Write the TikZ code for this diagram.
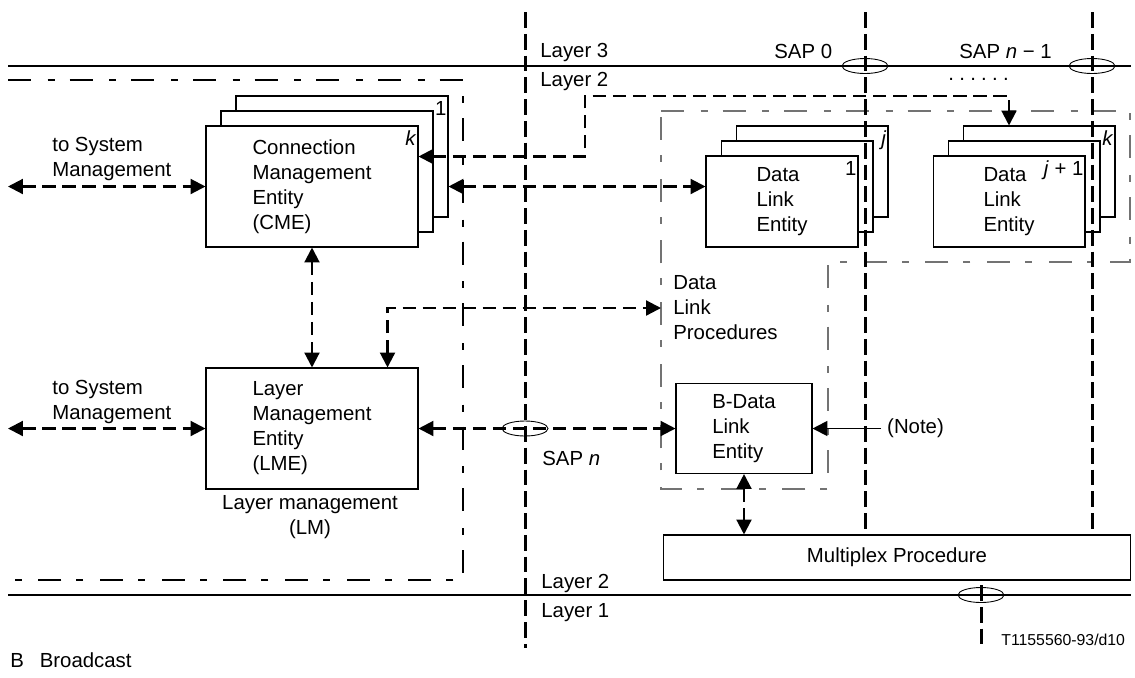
\documentclass[tikz,border=0pt]{standalone}
\usepackage{fontspec}
\setmainfont{Liberation Sans}
\usetikzlibrary{arrows.meta,shapes.geometric}

\begin{document}
\begin{tikzpicture}
[   x=0.02cm, y=-0.02cm,
    font=\fontsize{11.6}{14.2}\selectfont,
    ent/.style={draw, fill=white, line width=0.6pt, align=left, inner sep=0pt},
    bigent/.style={ent, minimum width=4.24cm, minimum height=2.42cm},
    dlent/.style={ent, minimum width=3.04cm, minimum height=1.82cm},
    conn/.style={line width=1.25pt, dash pattern=on 7.6pt off 3.8pt, {Triangle[length=8.5pt,width=8.5pt]}-{Triangle[length=8.5pt,width=8.5pt]}},
    sapline/.style={line width=1.7pt, dash pattern=on 9pt off 3.4pt},
    dashdot/.style={line width=0.6pt, dash pattern=on 13pt off 9.6pt on 4pt off 8.5pt},
    sap/.style={draw, ellipse, line width=0.5pt, minimum width=0.92cm, minimum height=0.3cm, inner sep=0pt},
    num/.style={anchor=north east, inner xsep=1pt, inner ysep=3pt},
    lbl/.style={anchor=base west, inner sep=0pt},
]
\useasboundingbox (0,0) rectangle (1135,677);

\draw[dashdot] (8,80) -- (463,80) -- (463,580) -- (8,580);
\draw[dashdot, black!55] (661,111) -- (1130,111) -- (1130,262) -- (828,262) -- (828,489) -- (661,489) -- cycle;

\node[bigent] (cmeB) at (342,156.5) {};
\node[bigent] (cmeM) at (327,171.5) {};
\node[bigent] (cme) at (312,186.5) {Connection\\Management\\Entity\\(CME)};
\node[num] at (cmeB.north east) {1};
\node[num] at (cme.north east) {\textit{k}};

\node[dlent] (dleB) at (812,171.5) {};
\node[dlent] (dleM) at (797,186.5) {};
\node[dlent] (dle) at (782,201.5) {Data\\Link\\Entity};
\node[num] at (dleB.north east) {\textit{j}};
\node[num] at (dle.north east) {1};

\node[dlent] (dle2B) at (1039,171.5) {};
\node[dlent] (dle2M) at (1024,186.5) {};
\node[dlent] (dle2) at (1009,201.5) {Data\\Link\\Entity};
\node[num] at (dle2B.north east) {\textit{k}};
\node[num] at (dle2.north east) {\textit{j} + 1};

\node[bigent] (lme) at (312,428.5) {Layer\\Management\\Entity\\(LME)};
\node[ent, minimum width=2.72cm, minimum height=1.8cm] (bdle) at (744,428.5) {B-Data\\Link\\Entity};
\node[ent, minimum width=9.36cm, minimum height=0.9cm] (mux) at (897,557.5) {Multiplex Procedure};

\draw[line width=1.1pt] (8,66) -- (1131,66);
\draw[line width=1.6pt] (8,595) -- (1131,595);

\draw[sapline] (525,12) -- (525,648);
\draw[sapline] (865,12) -- (865,12 |- mux.north);
\draw[sapline] (1092,12) -- (1092,12 |- mux.north);
\draw[sapline] (981,585) -- (981,648);

\node[sap] (sap0) at (865,66) {};
\node[sap] (sapn1) at (1092,66) {};
\node[sap] (sapn) at (525,428.5) {};
\node[sap] (sapb) at (981,595) {};

\node[anchor=west, align=left, inner xsep=0.24cm, inner ysep=0pt] (dlp) at (661,308) {Data\\Link\\Procedures};
\node[anchor=west] (note) at (881,428.5) {(Note)};
\node[anchor=west, align=left, inner sep=0pt] (sys1) at (52,159) {to System\\Management};
\node[anchor=west, align=left, inner sep=0pt] (sys2) at (52,402) {to System\\Management};
\coordinate (sysA) at (8,186.5);
\coordinate (sysB) at (8,428.5);
\coordinate (cmebend) at (585,96);

\draw[conn] (sysA) -- (cme.west);
\draw[conn] (sysB) -- (lme.west);
\draw[conn] (cme) -- (lme);
\draw[conn] (cme.east -| cmeB.east) -- (cme.east -| dle.west);
\draw[conn] (cme.east |- cmeB.east) -| (cmebend) -| (dle2.center |- dle2B.north);
\draw[conn] ([xshift=-0.62cm]lme.north east) |- (dlp.west);
\draw[conn] (lme.east) -- (bdle.west);
\draw[conn] (bdle.south) -- (bdle.south |- mux.north);
\draw[line width=1.1pt, -{Triangle[length=8.5pt,width=8.5pt]}] (note.west) -- (bdle.east);

\node[lbl] at (540,57) {Layer 3};
\node[lbl] at (540,86) {Layer 2};
\node[lbl] at (774,58) {SAP 0};
\node[lbl] at (959,58) {SAP \textit{n} − 1};
\node[lbl] at (948,80) {.\hspace{0.26em}.\hspace{0.26em}.\hspace{0.26em}.\hspace{0.26em}.\hspace{0.26em}.};
\node[lbl] at (542,465) {SAP \textit{n}};
\node[align=center] (lm) at (310,517) {Layer management\\(LM)};
\node[lbl] at (541,588) {Layer 2};
\node[lbl] at (541,617) {Layer 1};
\node[lbl, font=\fontsize{9}{11}\selectfont] at (1001,645) {T1155560-93/d10};
\node[lbl] at (10,667) {B\hspace{0.78em}Broadcast};

\end{tikzpicture}
\end{document}
